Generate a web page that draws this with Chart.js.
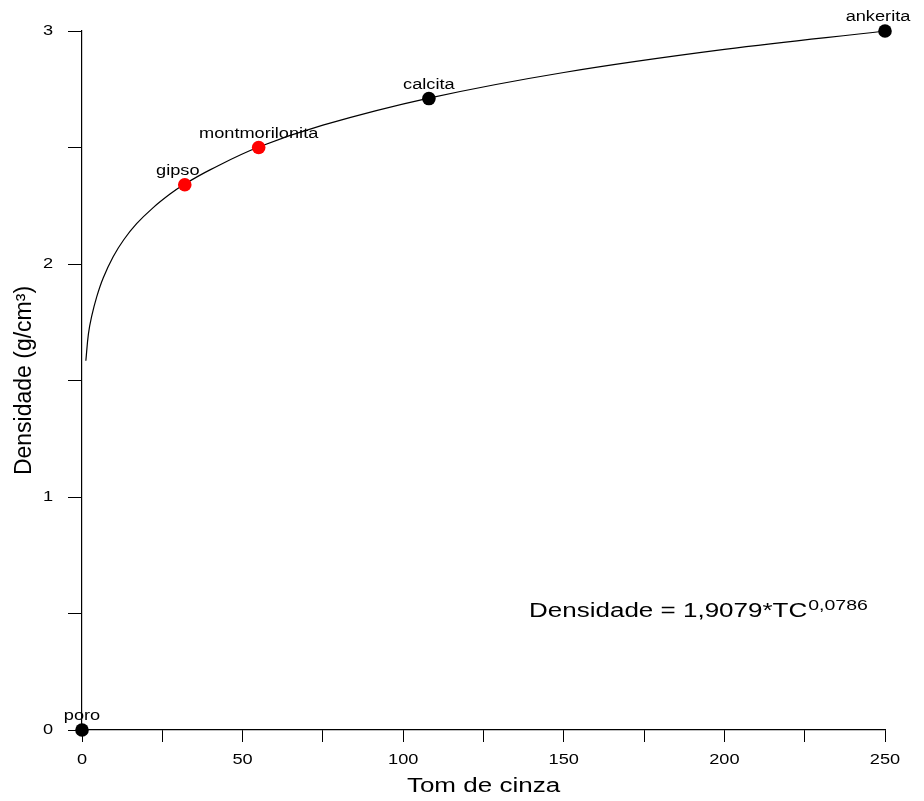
<!DOCTYPE html>
<html>
<head>
<meta charset="utf-8">
<script src="https://cdn.jsdelivr.net/npm/chart.js@4"></script>
<style>
html,body{margin:0;padding:0;background:#fff;}
#wrap{width:924px;height:801px;}
</style>
</head>
<body>
<div id="wrap"><canvas id="c" width="924" height="801"></canvas></div>
<script>
// Minerals (labelled points)
const mineralNames = ['poro', 'gipso', 'montmorilonita', 'calcita', 'ankerita'];
const mineralTC = [0, 32, 55, 108, 250];
const mineralDensity = [0, 2.34, 2.50, 2.71, 3.00];
const mineralColors = ['#000000', '#ff0000', '#ff0000', '#000000', '#000000'];

// Fitted curve
const curveTC = [1.2, 2, 3, 4.6, 6.6, 9.7, 13, 17, 22, 27.4, 31.5, 40, 55, 75, 108, 150, 200, 250];
const curveDensity = [1.585, 1.70, 1.775, 1.86, 1.94, 2.031, 2.104, 2.173, 2.24, 2.300, 2.339, 2.405, 2.502, 2.596, 2.712, 2.822, 2.921, 3.0];

// Tick labels
const xTickLabels = [0, 50, 100, 150, 200, 250];
const yTickLabels = [0, 1, 2, 3];

const equationText = 'Densidade = 1,9079*TC';
const equationExponent = '0,0786';
const xTitle = 'Tom de cinza';
const yTitle = 'Densidade (g/cm³)';

const FONT = "'Liberation Sans', Arial, sans-serif";
const SX = 1.3; // horizontal text stretch seen in the reference

function stretchText(ctx, text, x, y, align) {
  ctx.save();
  ctx.translate(x, y);
  ctx.scale(SX, 1);
  ctx.textAlign = align;
  ctx.fillText(text, 0, 0);
  ctx.restore();
}

const labelNudge = {gipso: -7, ankerita: -7};

const textPlugin = {
  id: 'texts',
  afterDraw(chart) {
    const ctx = chart.ctx;
    const xs = chart.scales.x, ys = chart.scales.y;
    const ca = chart.chartArea;
    ctx.save();
    ctx.fillStyle = '#000';

    // point labels
    ctx.font = '14px ' + FONT;
    ctx.textBaseline = 'alphabetic';
    mineralNames.forEach((n, i) => {
      const px = xs.getPixelForValue(mineralTC[i]) + (labelNudge[n] || 0);
      const py = ys.getPixelForValue(mineralDensity[i]);
      stretchText(ctx, n, px, py - 10, 'center');
    });

    // tick labels
    ctx.font = '14px ' + FONT;
    ctx.textBaseline = 'middle';
    xTickLabels.forEach(v => {
      stretchText(ctx, String(v), xs.getPixelForValue(v), ca.bottom + 30, 'center');
    });
    yTickLabels.forEach(v => {
      stretchText(ctx, String(v), ca.left - 29, ys.getPixelForValue(v), 'right');
    });

    // axis titles
    ctx.font = '20px ' + FONT;
    ctx.textBaseline = 'middle';
    stretchText(ctx, xTitle, (ca.left + ca.right) / 2, ca.bottom + 56, 'center');
    ctx.save();
    ctx.translate(25, (ca.top + ca.bottom) / 2);
    ctx.rotate(-Math.PI / 2);
    ctx.font = '23px ' + FONT;
    ctx.textAlign = 'center';
    ctx.fillText(yTitle, 0, 0);
    ctx.restore();

    // equation
    ctx.textBaseline = 'alphabetic';
    ctx.font = '20px ' + FONT;
    const ex = 529, ey = 617;
    stretchText(ctx, equationText, ex, ey, 'left');
    const w = ctx.measureText(equationText).width * SX;
    ctx.font = '15px ' + FONT;
    stretchText(ctx, equationExponent, ex + w + 1, ey - 7, 'left');
    ctx.restore();
  }
};

new Chart(document.getElementById('c'), {
  type: 'scatter',
  data: {
    datasets: [
      {
        type: 'line',
        data: curveTC.map((x, i) => ({x: x, y: curveDensity[i]})),
        borderColor: '#000',
        borderWidth: 1.2,
        pointRadius: 0,
        fill: false,
        tension: 0.4,
        clip: false,
        order: 2
      },
      {
        data: mineralTC.map((x, i) => ({x: x, y: mineralDensity[i]})),
        backgroundColor: mineralColors,
        borderColor: mineralColors,
        pointRadius: 6.8,
        pointHoverRadius: 6.8,
        borderWidth: 0,
        clip: false,
        order: 1
      }
    ]
  },
  options: {
    responsive: false,
    animation: false,
    events: [],
    layout: {padding: {top: 31, right: 39, left: 0, bottom: 0}},
    plugins: {legend: {display: false}, tooltip: {enabled: false}},
    scales: {
      x: {
        type: 'linear', min: 0, max: 250,
        afterFit(s) { s.height = 71; },
        border: {display: true, color: '#000', width: 1.2},
        grid: {drawOnChartArea: false, drawTicks: true, tickLength: 12, color: '#000', lineWidth: 1},
        ticks: {stepSize: 25, maxRotation: 0, font: {family: FONT, size: 14}, callback: () => ''},
        title: {display: false}
      },
      y: {
        type: 'linear', min: 0, max: 3,
        afterFit(s) { s.width = 82; },
        border: {display: true, color: '#000', width: 1.2},
        grid: {drawOnChartArea: false, drawTicks: true, tickLength: 14, color: '#000', lineWidth: 1},
        ticks: {stepSize: 0.5, font: {family: FONT, size: 14}, callback: () => ''},
        title: {display: false}
      }
    }
  },
  plugins: [textPlugin]
});
</script>
</body>
</html>
